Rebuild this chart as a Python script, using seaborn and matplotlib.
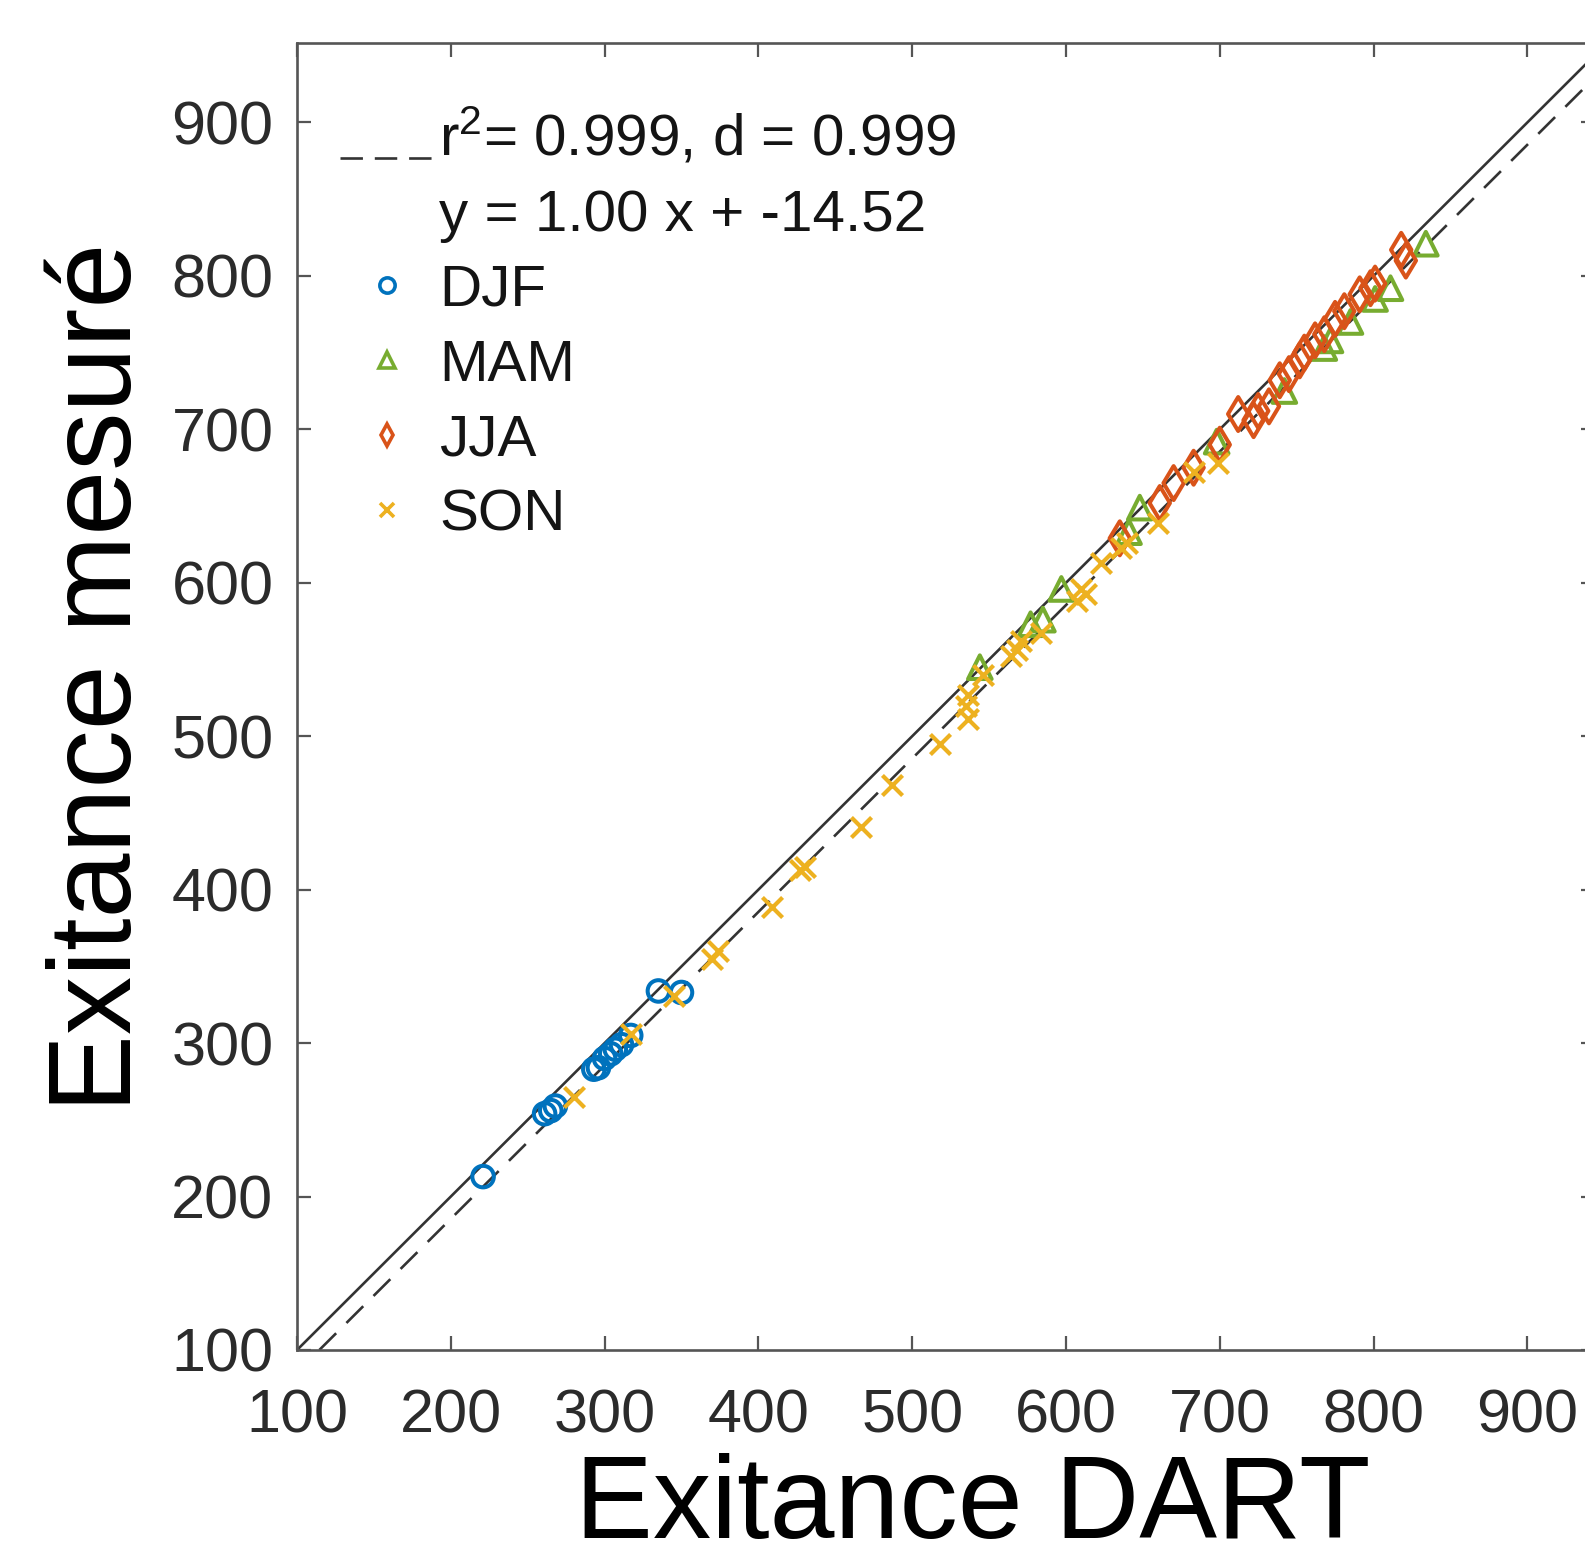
import numpy as np
import pandas as pd
import matplotlib
matplotlib.use("Agg")
import matplotlib.pyplot as plt
import seaborn as sns
from matplotlib.lines import Line2D
from matplotlib.legend_handler import HandlerLine2D

# ---------------- data ----------------
seasons = ["DJF", "MAM", "JJA", "SON"]

djf_x = [221, 261, 265, 268, 293, 296, 300, 304, 307, 311, 317, 335, 350]
djf_y = [213, 254, 256, 259, 283, 284, 290, 293, 296, 299, 305, 334, 333]

mam_x = [544, 577, 585, 597, 641, 648, 698, 742, 768, 772, 785, 801, 811, 834]
mam_y = [545, 573, 576, 596, 633, 649, 692, 725, 753, 758, 770, 785, 792, 821]

jja_x = [635, 661, 670, 683, 700, 712, 722, 725, 732, 739, 745, 752, 755,
         762, 768, 775, 781, 791, 798, 801, 818, 821]
jja_y = [629, 652, 665, 675, 690, 710, 706, 712, 715, 732, 736, 745, 750,
         758, 762, 772, 777, 788, 792, 795, 817, 810]

son_x = [280, 317, 345, 370, 374, 409, 427, 430, 467, 487, 518, 535, 536,
         536, 546, 564, 568, 571, 584, 607, 610, 613, 623, 636, 640, 660,
         683, 699]
son_y = [265, 306, 331, 355, 360, 389, 413, 415, 441, 468, 495, 520, 511,
         527, 540, 552, 556, 562, 567, 588, 596, 593, 613, 623, 626, 639,
         672, 678]

fit_slope = 1.00
fit_intercept = -14.52
r2_value = "0.999"
d_value = "0.999"

x_ticks = [100, 200, 300, 400, 500, 600, 700, 800, 900]
y_ticks = [100, 200, 300, 400, 500, 600, 700, 800, 900]
x_label = "Exitance DART"
y_label = "Exitance mesuré"

colors = {"DJF": "#0072BD", "MAM": "#77AC30", "JJA": "#D95319", "SON": "#EDB120"}
markers = {"DJF": "o", "MAM": "^", "JJA": "d", "SON": "x"}
sizes = {"DJF": 240, "MAM": 290, "JJA": 300, "SON": 210}

df = pd.DataFrame({
    "x": djf_x + mam_x + jja_x + son_x,
    "y": djf_y + mam_y + jja_y + son_y,
    "season": (["DJF"] * len(djf_x) + ["MAM"] * len(mam_x)
               + ["JJA"] * len(jja_x) + ["SON"] * len(son_x)),
})

# ---------------- style ----------------
sns.set_theme(style="white")
plt.rcParams["font.family"] = ["Liberation Sans", "DejaVu Sans"]
plt.rcParams["mathtext.fontset"] = "custom"
plt.rcParams["mathtext.rm"] = "Liberation Sans"
plt.rcParams["mathtext.it"] = "Liberation Sans:italic"

W, H = 1585, 1564
fig = plt.figure(figsize=(W / 100, H / 100), dpi=100)
fig.patch.set_facecolor("white")
ax_left, ax_right, ax_bottom, ax_top = 297, 1595, 1350, 42.7
ax = fig.add_axes([ax_left / W, (H - ax_bottom) / H,
                   (ax_right - ax_left) / W, (ax_bottom - ax_top) / H])
ax.set_facecolor("white")

line_col = "#333333"
# 1:1 line and regression line
ax.axline((100, 100), slope=1.0, color=line_col, lw=1.9, zorder=1)
ax.axline((0, fit_intercept), slope=fit_slope, color=line_col, lw=1.9,
          ls=(0, (9, 5.5)), zorder=1)

for s in seasons:
    sub = df[df["season"] == s]
    if markers[s] == "x":
        sns.scatterplot(data=sub, x="x", y="y", marker="x", s=sizes[s],
                        color=colors[s], linewidth=3.0, ax=ax, legend=False,
                        zorder=3)
    else:
        sns.scatterplot(data=sub, x="x", y="y", marker=markers[s], s=sizes[s],
                        color=colors[s], facecolor="none",
                        edgecolor=colors[s], linewidth=2.9, ax=ax,
                        legend=False, zorder=3)

ax.set_xlim(100, 944)
ax.set_ylim(100, 952)
ax.set_xticks(x_ticks)
ax.set_yticks(y_ticks)
ax.set_xticklabels([str(t) for t in x_ticks])
ax.set_yticklabels([str(t) for t in y_ticks])

spine_col = "#555555"
for sp in ax.spines.values():
    sp.set_visible(True)
    sp.set_color(spine_col)
    sp.set_linewidth(1.9)

ax.tick_params(axis="both", which="major", direction="in", length=10,
               width=1.6, color=spine_col, labelcolor="#2b2b2b",
               labelsize=44, top=True, right=True, bottom=True, left=True)
ax.tick_params(axis="x", pad=28)
ax.tick_params(axis="y", pad=17)

ax.set_xlabel(x_label, fontsize=84, color="black", va="baseline")
ax.set_ylabel(y_label, fontsize=84, color="black", va="baseline")
axw = ax_right - ax_left
axh = ax_bottom - ax_top
ax.xaxis.set_label_coords((973 - ax_left) / axw, (ax_bottom - 1538) / axh)
ax.yaxis.set_label_coords((131.5 - ax_left) / axw, (ax_bottom - 677) / axh)


# ---------------- legend ----------------
class LowLineHandler(HandlerLine2D):
    def __init__(self, dy=0, **kw):
        super().__init__(**kw)
        self.dy = dy

    def create_artists(self, legend, orig_handle, xdescent, ydescent,
                       width, height, fontsize, trans):
        arts = super().create_artists(legend, orig_handle, xdescent, ydescent,
                                      width, height, fontsize, trans)
        for a in arts:
            a.set_ydata(np.asarray(a.get_ydata()) - self.dy)
        return arts


h_fit = Line2D([], [], color=line_col, lw=1.9, ls=(0, (8.5, 4.5)))
h_blank = Line2D([], [], ls="none", marker="none")
handles = [h_fit, h_blank]
labels = [f"r$^{{2}}$= {r2_value}, d = {d_value}",
          f"y = {fit_slope:.2f} x + {fit_intercept:.2f}"]
for s in seasons:
    if markers[s] == "x":
        h = Line2D([], [], ls="none", marker="x", color=colors[s],
                   markersize=10, markeredgewidth=2.6)
    else:
        h = Line2D([], [], ls="none", marker=markers[s], markerfacecolor="none",
                   markeredgecolor=colors[s], markersize=11, markeredgewidth=2.6)
    handles.append(h)
    labels.append(s)

leg = ax.legend(handles, labels, loc="upper left",
                bbox_to_anchor=((340 - ax_left) / axw, (ax_bottom - 107) / axh),
                frameon=False, fontsize=42, borderaxespad=0, borderpad=0,
                handlelength=1.6, handletextpad=0.1, labelspacing=0.36,
                handler_map={h_fit: LowLineHandler(dy=16.5)})
for t in leg.get_texts():
    t.set_color("#141414")

fig.savefig("out.png", dpi=100, facecolor="white")
